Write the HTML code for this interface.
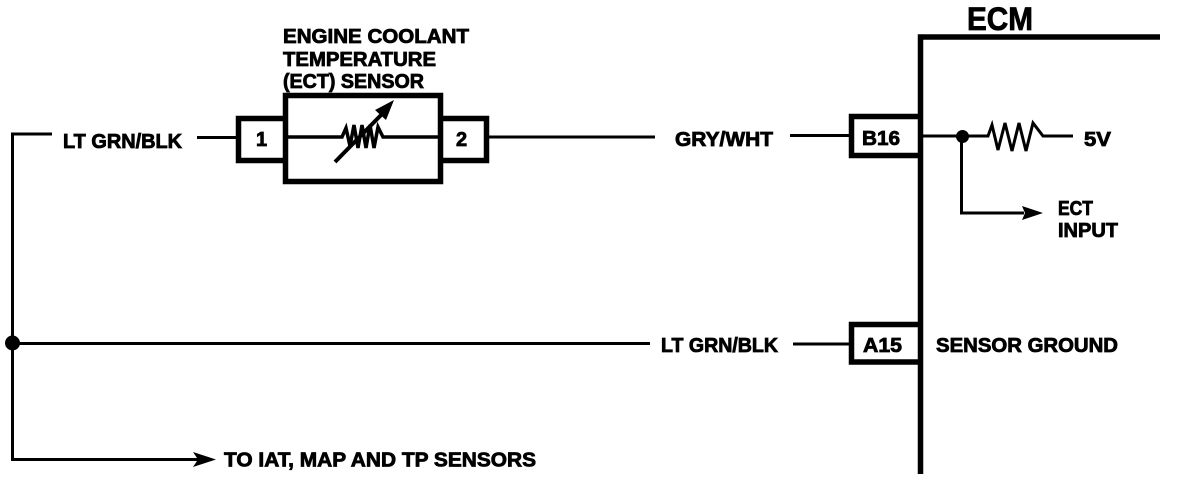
<!DOCTYPE html>
<html><head><meta charset="utf-8"><style>
html,body{margin:0;padding:0;background:#fff;width:1184px;height:482px;overflow:hidden}
svg{display:block}
text{font-family:"Liberation Sans",sans-serif;font-weight:bold;fill:#000;stroke:#000;stroke-width:.8px}
</style></head><body>
<svg width="1184" height="482" viewBox="0 0 1184 482" xmlns="http://www.w3.org/2000/svg">
<g fill="none" stroke="#000" stroke-linejoin="miter">
<!-- ECM border -->
<path d="M920.5 474V37H1160" stroke-width="5.500"/>
<!-- Sensor boxes -->
<rect x="285.5" y="95.5" width="155" height="86" stroke-width="5.500"/>
<path d="M283.5 118.5H238.5V160.5H283.5M443 118.5H486.5V160.5H443" stroke-width="5.500"/>
<!-- Connector boxes -->
<path d="M920 116.5H851.5V155.5H920M920 324.5H851.5V362H920" stroke-width="5.500"/>
<!-- Wires -->
<g stroke-width="3">
<path d="M52 134H12.500V459.500H200"/>
<path d="M197 137.500H237"/>
<path d="M288 137H342L346 128L350 146L354 125L358 148L362 125L366 148L370 125L374 148L378 127L383 137H440" stroke-width="3.500"/>
<path d="M489 137H655"/>
<path d="M790 135.500H850"/>
<path d="M12 343.500H650"/>
<path d="M793 344H851"/>
<path d="M923 136H988L992 125L998 150L1005 123L1012 151L1019 123L1026 151L1033 123L1043 136H1073"/>
<path d="M961.500 136V213H1024"/>
<path d="M335 162L385 111" stroke-width="4"/>
</g>
</g>
<!-- Arrowheads and dots -->
<polygon points="394,100 375,110 386,120"/>
<polygon points="1043,213 1022,206 1025,213 1022,220"/>
<polygon points="216,459.500 193,452 198,459.500 193,467"/>
<circle cx="962.500" cy="136.500" r="6.500"/>
<circle cx="12.500" cy="343" r="7.500"/>
<!-- Labels -->
<text x="283" y="43" font-size="20" textLength="186" lengthAdjust="spacingAndGlyphs">ENGINE COOLANT</text>
<text x="283" y="66" font-size="20" textLength="153" lengthAdjust="spacingAndGlyphs">TEMPERATURE</text>
<text x="283" y="88" font-size="20" textLength="141" lengthAdjust="spacingAndGlyphs">(ECT) SENSOR</text>
<text x="63" y="148" font-size="20" textLength="119" lengthAdjust="spacingAndGlyphs">LT GRN/BLK</text>
<text x="256" y="146" font-size="20">1</text>
<text x="456" y="146" font-size="20">2</text>
<text x="675" y="146" font-size="20" textLength="98" lengthAdjust="spacingAndGlyphs">GRY/WHT</text>
<text x="862" y="145" font-size="20" textLength="38" lengthAdjust="spacingAndGlyphs">B16</text>
<text x="967" y="30" font-size="32" textLength="66" lengthAdjust="spacingAndGlyphs">ECM</text>
<text x="1084" y="146" font-size="20" textLength="27" lengthAdjust="spacingAndGlyphs">5V</text>
<text x="1058" y="215" font-size="20" textLength="35" lengthAdjust="spacingAndGlyphs">ECT</text>
<text x="1058" y="237" font-size="20" textLength="60" lengthAdjust="spacingAndGlyphs">INPUT</text>
<text x="661" y="352" font-size="20" textLength="117" lengthAdjust="spacingAndGlyphs">LT GRN/BLK</text>
<text x="863" y="352" font-size="20" textLength="39" lengthAdjust="spacingAndGlyphs">A15</text>
<text x="936" y="352" font-size="20" textLength="182" lengthAdjust="spacingAndGlyphs">SENSOR GROUND</text>
<text x="224" y="466.500" font-size="20" textLength="312" lengthAdjust="spacingAndGlyphs">TO IAT, MAP AND TP SENSORS</text>
</svg>
</body></html>
